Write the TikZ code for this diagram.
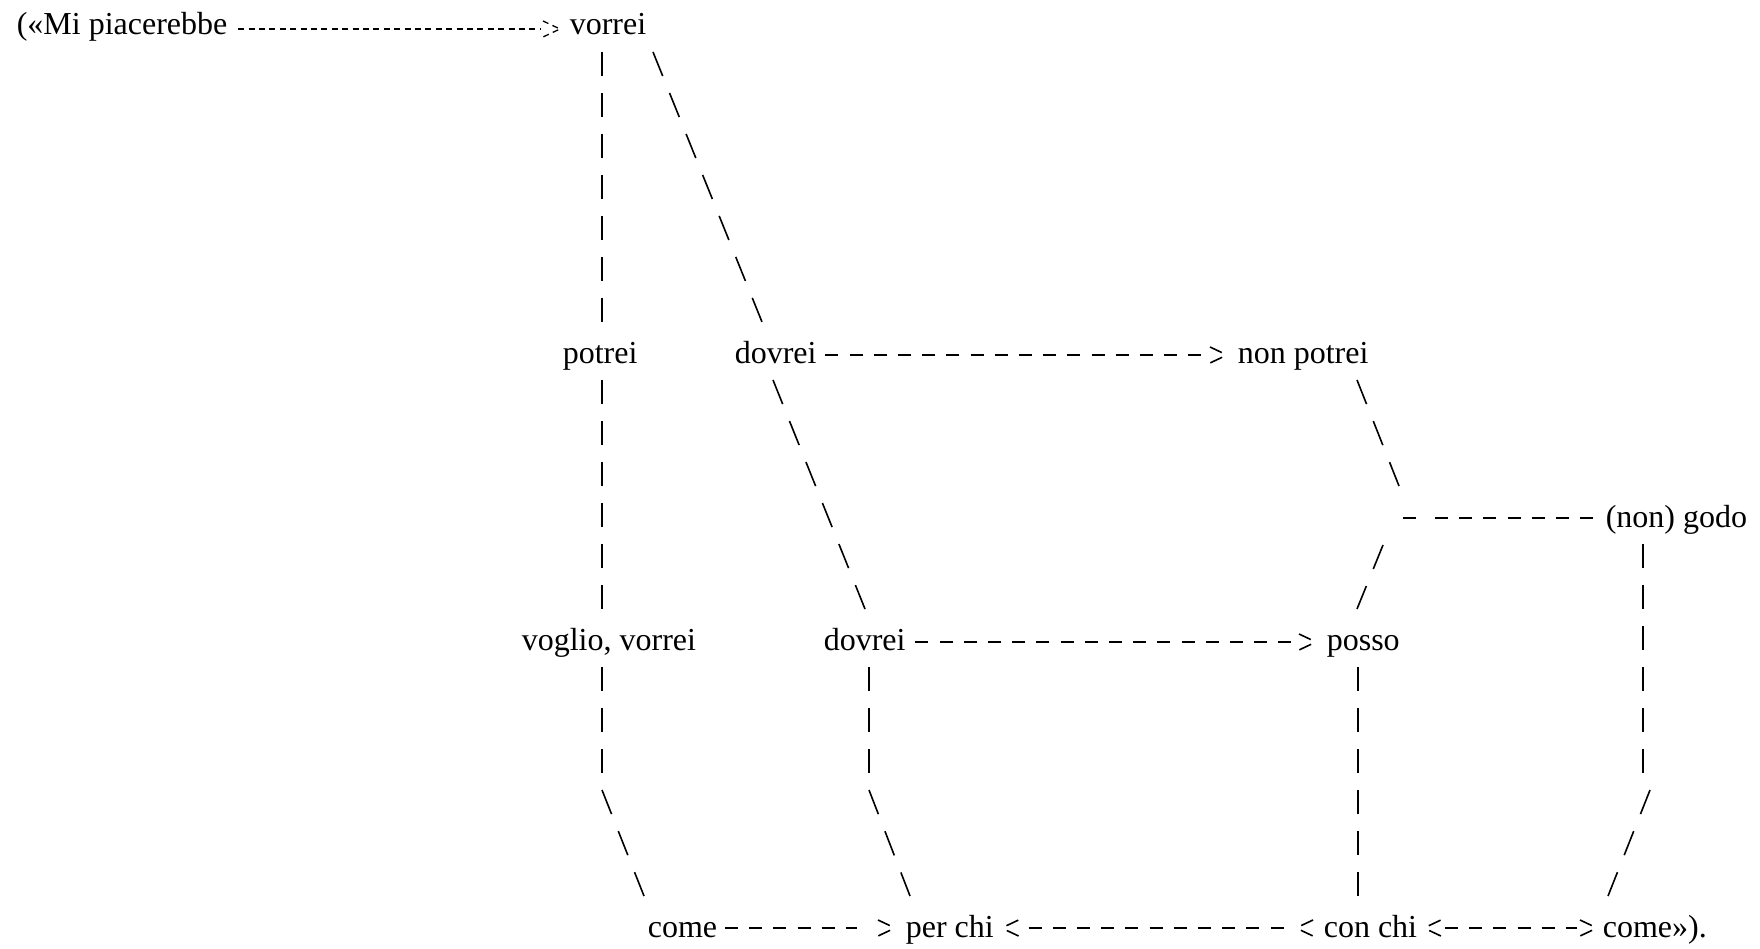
\documentclass[tikz,border=0pt]{standalone}
\usepackage{fontspec}
\setmainfont{Liberation Serif}
\usetikzlibrary{arrows.meta}
\makeatletter
\pgfdeclarearrow{
	name = chev,
	defaults = {inset = 8pt},
	parameters = {\the\pgfarrowinset},
	setup code = {
		\pgfarrowssettipend{0pt}
		\pgfarrowssetbackend{-17pt}
		\pgfarrowssetvisualbackend{-17pt}
		\pgfarrowssetlineend{-17pt\advance\pgf@x by-\pgfarrowinset}
		\pgfarrowshullpoint{0pt}{0pt}
		\pgfarrowshullpoint{-17pt}{8pt}
		\pgfarrowshullpoint{-17pt}{-8pt}
	},
	drawing code = {
		\pgfpathmoveto{\pgfqpoint{-17pt}{8pt}}
		\pgfpathlineto{\pgfpointorigin}
		\pgfpathlineto{\pgfqpoint{-17pt}{-8pt}}
		\pgfusepathqstroke
	}
}
\pgfdeclarearrow{
	name = vehc,
	defaults = {inset = 8pt},
	parameters = {\the\pgfarrowinset},
	setup code = {
		\pgfarrowssettipend{0pt}
		\pgfarrowssetbackend{-17pt}
		\pgfarrowssetvisualbackend{-17pt}
		\pgfarrowssetlineend{-17pt\advance\pgf@x by-\pgfarrowinset}
		\pgfarrowshullpoint{-17pt}{0pt}
		\pgfarrowshullpoint{0pt}{8pt}
		\pgfarrowshullpoint{0pt}{-8pt}
	},
	drawing code = {
		\pgfpathmoveto{\pgfqpoint{0pt}{8pt}}
		\pgfpathlineto{\pgfqpoint{-17pt}{0pt}}
		\pgfpathlineto{\pgfqpoint{0pt}{-8pt}}
		\pgfusepathqstroke
	}
}
\makeatother
\begin{document}
\begin{tikzpicture}[x=1pt,y=-1pt,line width=1.6pt,font=\fontsize{32}{38}\selectfont,
	word/.style={anchor=base west,inner sep=0pt},
	vdash/.style={dash pattern=on 24pt off 17pt},
	ddash/.style={dash pattern=on 25.9pt off 18.3pt},
	hdash/.style={dash pattern=on 13pt off 11.2pt},
	hyph/.style={line width=1.3pt,dash pattern=on 6pt off 4.4pt}]
			\useasboundingbox (0,0) rectangle (1760,949);
			\node[word] (mi) at (16,35) {(«Mi piacerebbe};
			\node[word] (vorrei) at (569,35) {vorrei};
			\node[word] (potrei) at (562,363) {potrei};
			\node[word] (dovreiA) at (734,363) {dovrei};
			\node[word] (nonpotrei) at (1237,363) {non potrei};
			\node[word] (godo) at (1605,527) {(non) godo};
			\node[word] (voglio) at (521,650) {voglio, vorrei};
			\node[word] (dovreiB) at (823,650) {dovrei};
			\node[word] (posso) at (1326,650) {posso};
			\node[word] (come) at (647,937) {come};
			\node[word] (perchi) at (905,937) {per chi};
			\node[word] (conchi) at (1323,937) {con chi};
			\node[word] (comeB) at (1602,937) {come»).};
			\coordinate (fork) at (1403,518);
			\draw[hyph,-{chev[inset=3pt]}] ([shift={(10,-6)}]mi.base east)--([shift={(-9,-6)}]vorrei.base west);
			\draw[vdash] ([shift={(33,17)}]vorrei.base west)--([shift={(40,-41)}]potrei.base west);
			\draw[ddash] ([shift={(84,17)}]vorrei.base west)--([shift={(28,-41)}]dovreiA.base west);
			\draw[vdash] ([shift={(40,17)}]potrei.base west)--([shift={(81,-41)}]voglio.base west);
			\draw[ddash] ([shift={(39,17)}]dovreiA.base west)--([shift={(42,-41)}]dovreiB.base west);
			\draw[hdash,-{chev}] ([shift={(8,-8)}]dovreiA.base east)--([shift={(-10,-8)}]nonpotrei.base west);
			\draw[ddash] ([shift={(120,17)}]nonpotrei.base west)--([shift={(-4,-32)}]fork);
			\draw[hdash] (fork)--++(15,0) ++(17,0)--([shift={(-12,-9)}]godo.base west);
			\draw[ddash] ([shift={(-20,27)}]fork)--([shift={(31,-41)}]posso.base west);
			\draw[vdash] ([shift={(81,17)}]voglio.base west)--++(0,106) ++(0,17) edge[ddash] ([shift={(-3,-41)}]come.base west);
			\draw[vdash] ([shift={(46,17)}]dovreiB.base west)--++(0,106) ++(0,17) edge[ddash] ([shift={(5,-41)}]perchi.base west);
			\draw[hdash,-{chev}] ([shift={(9,-8)}]dovreiB.base east)--([shift={(-10,-8)}]posso.base west);
			\draw[vdash] ([shift={(32,17)}]posso.base west)--([shift={(35,-41)}]conchi.base west);
			\draw[vdash] ([shift={(38,17)}]godo.base west)--++(0,229) ++(7,17) edge[ddash] ([shift={(6,-41)}]comeB.base west);
			\draw[hdash,-{chev[inset=21pt]}] ([shift={(7,-9)}]come.base east)--([shift={(-10,-9)}]perchi.base west);
			\draw[hdash,{chev[inset=10pt]}-{vehc[inset=9pt]}] ([shift={(7,-9)}]perchi.base east)--([shift={(-10,-9)}]conchi.base west);
			\draw[hdash,{chev[inset=4pt]}-{chev[inset=3pt]}] ([shift={(6,-9)}]conchi.base east)--([shift={(-5,-9)}]comeB.base west);
	\end{tikzpicture}
\end{document}
